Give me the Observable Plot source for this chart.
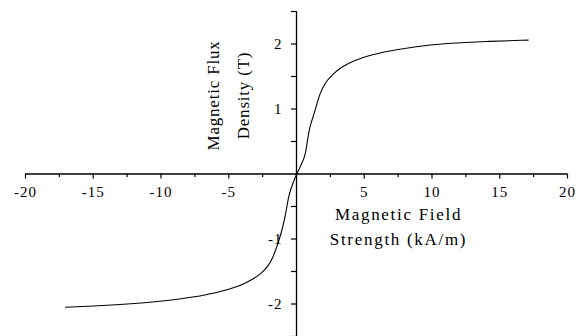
<!DOCTYPE html>
<html><head><meta charset="utf-8">
<script src="https://cdn.jsdelivr.net/npm/d3@7"></script>
<script src="https://cdn.jsdelivr.net/npm/@observablehq/plot@0.6"></script>
<style>body{margin:0;background:#fff;} svg text{font-family:"Liberation Serif","Times New Roman","DejaVu Serif",serif !important;}</style>
</head><body><div id="chart"></div>
<script>
// B-H curve (H in kA/m, B in T)
const fieldH = [-17.05, -12, -8.3, -5.85, -4.13, -3.3, -2.6, -2.1, -1.75, -1.45, -1.11, -0.86, -0.69, -0.57, -0.32, 0,
                0.17, 0.37, 0.54, 0.69, 0.81, 0.98, 1.23, 1.48, 1.73, 2.1, 2.59, 3.33, 4.32, 5.3, 6.54, 8.66, 11.1, 14, 17.1];
const fluxB  = [-2.05, -2.0, -1.92, -1.83, -1.72, -1.63, -1.53, -1.42, -1.29, -1.12, -0.9, -0.68, -0.48, -0.33, -0.17, 0,
                0.06, 0.16, 0.23, 0.34, 0.52, 0.73, 0.88, 1.06, 1.24, 1.40, 1.52, 1.65, 1.75, 1.82, 1.88, 1.96, 2.01, 2.04, 2.06];
const xMajorTicks = [-20, -15, -10, -5, 5, 10, 15, 20];
const xMinorTicks = [-17.5, -12.5, -7.5, -2.5, 2.5, 7.5, 12.5, 17.5];
const yMajorTicks = [2, 1, -1, -2];
const yMinorTicks = [2.5, 1.5, 0.5, -0.5, -1.5, -2.5];
const xTitle = "Magnetic Field\nStrength (kA/m)";
const yTitle = "Magnetic Flux\nDensity (T)";

const W = 583, H = 336, mL = 25, mR = 16, mT = 11, mB = 0;
const xDomain = [-20, 20], yDomain = [-2.5, 2.5];
const xPerPx = (xDomain[1] - xDomain[0]) / (W - mL - mR);
const yPerPx = (yDomain[1] - yDomain[0]) / (H - mT - mB);
const px2x = p => xDomain[0] + (p - mL) * xPerPx;
const px2y = p => yDomain[1] - (p - mT) * yPerPx;
const font = "Liberation Serif, Times New Roman, DejaVu Serif, serif";
const pts = fieldH.map((h, i) => ({h, b: fluxB[i]}));

const chart = Plot.plot({
  width: W, height: H,
  marginLeft: mL, marginRight: mR, marginTop: mT, marginBottom: mB,
  x: {domain: xDomain, axis: null},
  y: {domain: yDomain, axis: null},
  style: {background: "#fff", color: "#000"},
  marks: [
    // axes lines
    Plot.ruleY([0], {x1: xDomain[0], x2: xDomain[1], stroke: "#000", strokeWidth: 1.3}),
    Plot.ruleX([0], {y1: yDomain[0], y2: yDomain[1], stroke: "#000", strokeWidth: 1.3}),
    // x ticks (downwards)
    Plot.ruleX(xMajorTicks, {x: d => d, y1: 0, y2: -5 * yPerPx, stroke: "#000", strokeWidth: 1.2}),
    Plot.ruleX(xMinorTicks, {x: d => d, y1: 0, y2: -3.5 * yPerPx, stroke: "#000", strokeWidth: 1.2}),
    // y ticks (leftwards)
    Plot.ruleY(yMajorTicks, {y: d => d, x1: 0, x2: -5 * xPerPx, stroke: "#000", strokeWidth: 1.2}),
    Plot.ruleY(yMinorTicks, {y: d => d, x1: 0, x2: -5 * xPerPx, stroke: "#000", strokeWidth: 1.2}),
    // tick labels
    Plot.text(xMajorTicks, {x: d => d, y: 0, text: d => String(d), dy: 18, fontSize: 15, fontFamily: font, fill: "#000", ariaDescription: "ticklabels"}),
    Plot.text(yMajorTicks, {x: 0, y: d => d, text: d => String(d), dx: -14, textAnchor: "end", fontSize: 15, fontFamily: font, fill: "#000", ariaDescription: "ticklabels"}),
    // curve
    Plot.line(pts, {x: "h", y: "b", curve: "basis", stroke: "#000", strokeWidth: 1.1}),
    // axis titles
    Plot.text([xTitle], {x: px2x(398), y: px2y(224), text: d => d, fontSize: 17, fontFamily: font, lineHeight: 1.47, fill: "#000", ariaDescription: "xtitle"}),
    Plot.text([yTitle], {x: px2x(223.5), y: px2y(95), rotate: -90, text: d => d, fontSize: 17, fontFamily: font, lineHeight: 1.76, fill: "#000", ariaDescription: "ytitle"})
  ]
});
chart.querySelectorAll("text").forEach(t => t.style.fontFamily = "'Liberation Serif', 'Times New Roman', 'DejaVu Serif', serif");
chart.querySelectorAll('[aria-description="ticklabels"]').forEach(g => g.setAttribute("letter-spacing", "1"));
chart.querySelectorAll('[aria-description="xtitle"]').forEach(g => g.setAttribute("letter-spacing", "1.7"));
chart.querySelectorAll('[aria-description="ytitle"]').forEach(g => g.setAttribute("letter-spacing", "0.8"));
document.getElementById("chart").appendChild(chart);
</script>
</body></html>
